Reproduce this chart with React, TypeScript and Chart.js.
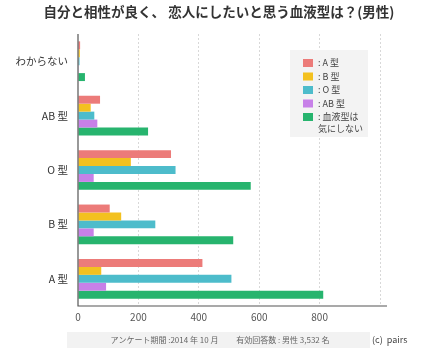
import React, { useEffect, useRef } from "react";
import { Chart, registerables } from "chart.js";

Chart.register(...registerables);

const categories = ["わからない", "AB 型", "O 型", "B 型", "A 型"];
const seriesNames = [": A 型", ": B 型", ": O 型", ": AB 型", ": 血液型は\n気にしない"];
const seriesA = [7, 73, 308, 105, 412];
const seriesB = [6, 42, 175, 143, 77];
const seriesO = [5, 54, 323, 256, 508];
const seriesAB = [1, 64, 52, 52, 93];
const seriesNone = [23, 232, 572, 514, 812];
const colors = ["#ec7b79", "#f3c11f", "#4dbccb", "#c780e8", "#27b46e"];
const xTicks = [0, 200, 400, 600, 800, 1000];
const titleText = "自分と相性が良く、 恋人にしたいと思う血液型は？(男性)";
const footerText = "アンケート期間 :2014 年 10 月　　 有効回答数 : 男性 3,532 名";
const creditText = "(c)  pairs";

const FONT = '"Noto Sans CJK JP", "Noto Sans", sans-serif';

const overlay = {
  id: "overlay",
  afterDraw(chart: any) {
    const ctx = chart.ctx;
    const area = chart.chartArea;
    ctx.save();
    ctx.fillStyle = "#333";
    ctx.font = `bold 13.5px ${FONT}`;
    ctx.textAlign = "center";
    ctx.textBaseline = "middle";
    ctx.fillText(titleText, 219, 12);
    ctx.strokeStyle = "#555";
    ctx.lineWidth = 1.2;
    ctx.beginPath();
    ctx.moveTo(area.left, area.top);
    ctx.lineTo(area.left, area.bottom);
    ctx.lineTo(area.right + 7, area.bottom);
    ctx.stroke();
    ctx.fillStyle = "#f3f3f3";
    ctx.fillRect(290, 50, 78, 87);
    let y = 63;
    ctx.font = `9px ${FONT}`;
    ctx.textAlign = "left";
    seriesNames.forEach((name, i) => {
      ctx.fillStyle = colors[i];
      ctx.fillRect(303, y - 4, 10, 8);
      ctx.fillStyle = "#444";
      name.split("\n").forEach((ln, j) => {
        ctx.fillText(ln, 318, y + j * 12);
      });
      y += 13.5;
    });
    ctx.fillStyle = "#f2f2f2";
    ctx.fillRect(67, 332, 303, 16);
    ctx.fillStyle = "#666";
    ctx.font = `8px ${FONT}`;
    ctx.textAlign = "center";
    ctx.fillText(footerText, 220, 340);
    ctx.fillStyle = "#444";
    ctx.textAlign = "left";
    ctx.font = `9px ${FONT}`;
    ctx.fillText(creditText, 372, 340);
    ctx.restore();
  },
};

export default function App() {
  const ref = useRef<HTMLCanvasElement | null>(null);
  useEffect(() => {
    document.body.style.margin = "0";
    const seriesData = [seriesA, seriesB, seriesO, seriesAB, seriesNone];
    const chart = new Chart(ref.current as HTMLCanvasElement, {
      type: "bar",
      data: {
        labels: categories,
        datasets: seriesData.map((d, i) => ({
          label: seriesNames[i],
          data: d,
          backgroundColor: colors[i],
          borderWidth: 0,
          barPercentage: 1,
          categoryPercentage: 0.73,
        })),
      },
      options: {
        indexAxis: "y",
        animation: false,
        responsive: false,
        maintainAspectRatio: false,
        layout: { padding: { top: 34, right: 60, bottom: 24, left: 0 } },
        plugins: {
          legend: { display: false },
          title: { display: false },
          tooltip: { enabled: false },
        },
        scales: {
          x: {
            min: 0,
            max: 1000,
            afterFit(scale: any) {
              scale.height = 20;
            },
            afterBuildTicks(scale: any) {
              scale.ticks = xTicks.map((v) => ({ value: v }));
            },
            border: { display: false },
            grid: {
              drawTicks: false,
              color: (c: any) => (c.tick && c.tick.value === 0 ? "rgba(0,0,0,0)" : "#d8d8d8"),
              lineWidth: 1,
            },
            ticks: {
              color: "#555",
              font: { family: FONT, size: 10 },
              padding: 5,
              maxRotation: 0,
              callback: (v: any) => (v === 1000 ? "" : String(v)),
            },
          } as any,
          y: {
            afterFit(scale: any) {
              scale.width = 78;
            },
            border: { display: false },
            grid: { display: false, drawTicks: false },
            ticks: {
              color: "#333",
              font: { family: FONT, size: 10.5 },
              padding: 10,
            },
          },
        },
      },
      plugins: [
        {
          id: "dashgrid",
          beforeDraw(chart: any) {
            chart.scales.x.options.border.dash = [2, 2];
          },
        },
        overlay,
      ],
    });
    return () => chart.destroy();
  }, []);
  return <canvas ref={ref} width={440} height={350} style={{ display: "block" }} />;
}
